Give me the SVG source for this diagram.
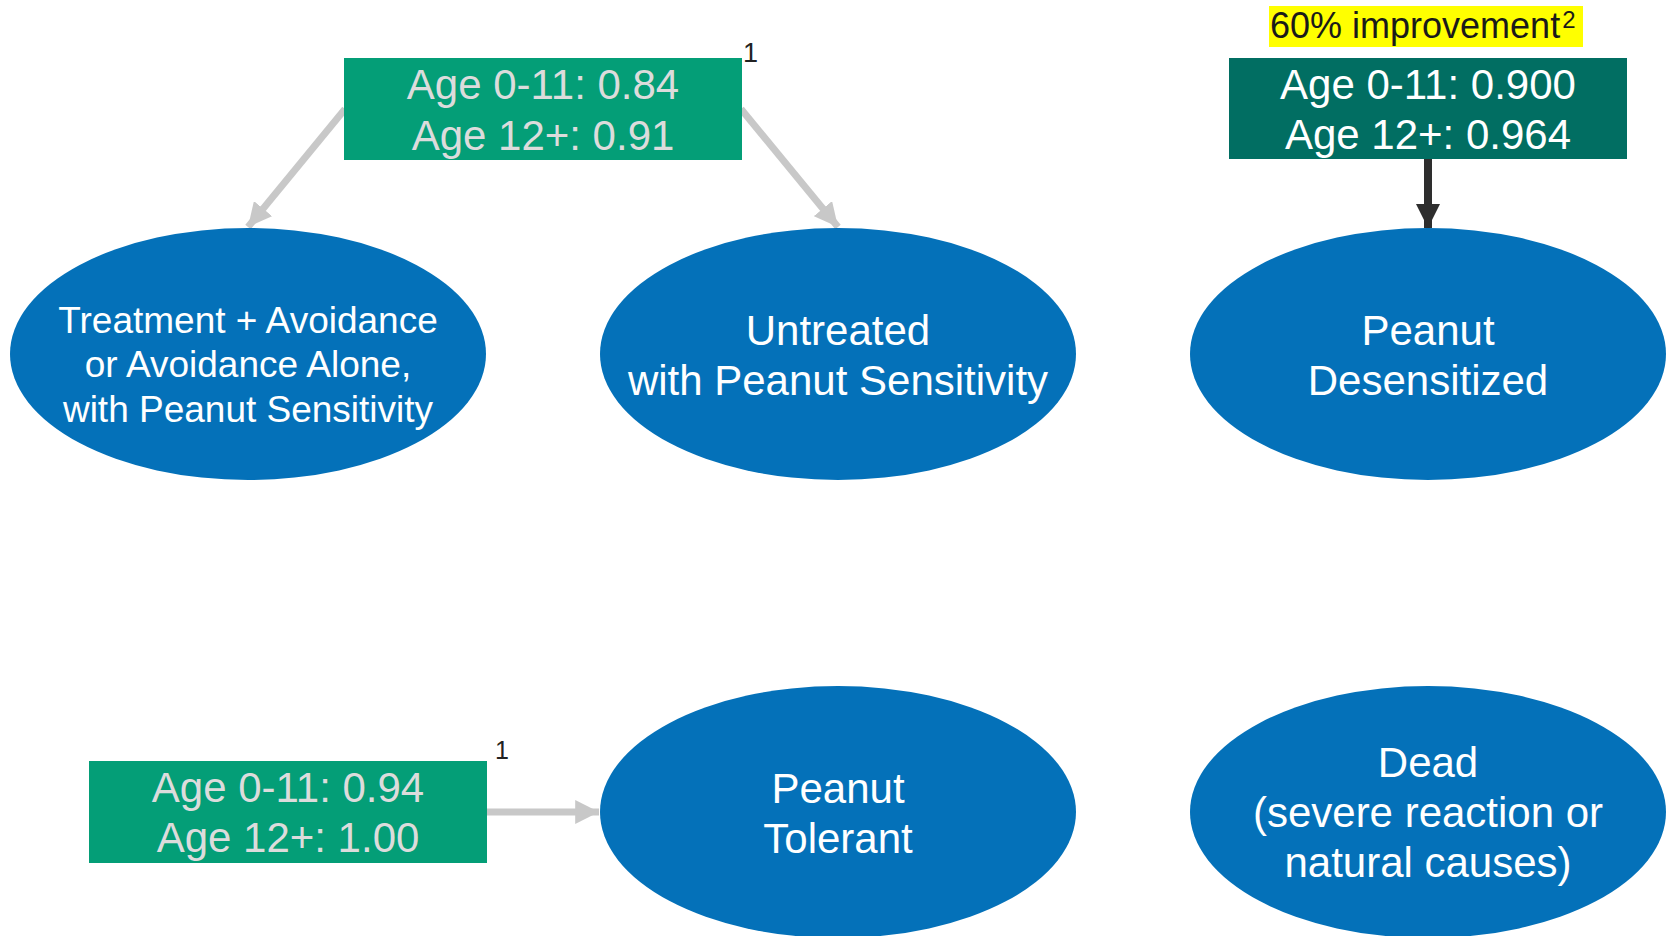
<svg xmlns="http://www.w3.org/2000/svg" width="1669" height="936" viewBox="0 0 1669 936">
  <style>
    text { font-family: "Liberation Sans", Arial, sans-serif; text-anchor: middle; }
    .state { fill: #0471b9; }
    .state-text { fill: #ffffff; font-size: 42px; }
    .state-text.small { font-size: 37px; }
    .prob { fill: #049e77; }
    .prob-text { fill: #dcdcdc; font-size: 42px; }
    .prob-dark { fill: #016e62; }
    .prob-dark-text { fill: #ffffff; font-size: 42px; }
    .note { fill: #222222; font-size: 27px; text-anchor: start; }
    .grey-link { stroke: #c8c8c8; stroke-width: 7; fill: none; }
    .dark-link { stroke: #2e2e2e; stroke-width: 8; fill: none; }
  </style>
  <defs>
    <marker id="head-grey" viewBox="0 0 10 10" refX="10" refY="5" markerWidth="3.4" markerHeight="3.4" markerUnits="strokeWidth" orient="auto">
      <path d="M0,0 L10,5 L0,10 z" fill="#c8c8c8"/>
    </marker>
    <marker id="head-dark" viewBox="0 0 10 10" refX="10" refY="5" markerWidth="3" markerHeight="3" markerUnits="strokeWidth" orient="auto">
      <path d="M0,0 L10,5 L0,10 z" fill="#2e2e2e"/>
    </marker>
  </defs>

  <rect width="1669" height="936" fill="#ffffff"/>

  <!-- connectors -->
  <g id="connectors">
    <line class="grey-link" x1="345" y1="109" x2="248" y2="227" marker-end="url(#head-grey)"/>
    <line class="grey-link" x1="741" y1="109" x2="838" y2="227" marker-end="url(#head-grey)"/>
    <line class="grey-link" x1="487" y1="812" x2="599" y2="812" marker-end="url(#head-grey)"/>
    <line class="dark-link" x1="1428" y1="159" x2="1428" y2="228" marker-end="url(#head-dark)"/>
  </g>

  <!-- transition probability boxes -->
  <g id="prob-sensitized">
    <rect class="prob" x="344" y="58" width="398" height="102"/>
    <text class="prob-text" x="543" y="99">Age 0-11: 0.84</text>
    <text class="prob-text" x="543" y="150">Age 12+: 0.91</text>
    <text class="note" x="743" y="62">1</text>
  </g>

  <g id="prob-desensitized">
    <rect x="1269" y="6" width="314" height="41" fill="#ffff00"/>
    <text x="1270" y="38" style="font-size:36px; fill:#1a1a1a; text-anchor:start;">60% improvement<tspan dx="2" dy="-10" style="font-size:24px;">2</tspan></text>
    <rect class="prob-dark" x="1229" y="58" width="398" height="101"/>
    <text class="prob-dark-text" x="1428" y="99">Age 0-11: 0.900</text>
    <text class="prob-dark-text" x="1428" y="149">Age 12+: 0.964</text>
  </g>

  <g id="prob-tolerant">
    <rect class="prob" x="89" y="761" width="398" height="102"/>
    <text class="prob-text" x="288" y="802">Age 0-11: 0.94</text>
    <text class="prob-text" x="288" y="852">Age 12+: 1.00</text>
    <text class="note" x="495" y="759" style="font-size:25px;">1</text>
  </g>

  <!-- health states -->
  <g id="state-avoidance">
    <ellipse class="state" cx="248" cy="354" rx="238" ry="126"/>
    <text class="state-text small" x="248" y="333">Treatment + Avoidance</text>
    <text class="state-text small" x="248" y="377">or Avoidance Alone,</text>
    <text class="state-text small" x="248" y="422">with Peanut Sensitivity</text>
  </g>

  <g id="state-untreated">
    <ellipse class="state" cx="838" cy="354" rx="238" ry="126"/>
    <text class="state-text" x="838" y="345">Untreated</text>
    <text class="state-text" x="838" y="395">with Peanut Sensitivity</text>
  </g>

  <g id="state-desensitized">
    <ellipse class="state" cx="1428" cy="354" rx="238" ry="126"/>
    <text class="state-text" x="1428" y="345">Peanut</text>
    <text class="state-text" x="1428" y="395">Desensitized</text>
  </g>

  <g id="state-tolerant">
    <ellipse class="state" cx="838" cy="812" rx="238" ry="126"/>
    <text class="state-text" x="838" y="803">Peanut</text>
    <text class="state-text" x="838" y="853">Tolerant</text>
  </g>

  <g id="state-dead">
    <ellipse class="state" cx="1428" cy="812" rx="238" ry="126"/>
    <text class="state-text" x="1428" y="777">Dead</text>
    <text class="state-text" x="1428" y="827">(severe reaction or</text>
    <text class="state-text" x="1428" y="877">natural causes)</text>
  </g>
</svg>
